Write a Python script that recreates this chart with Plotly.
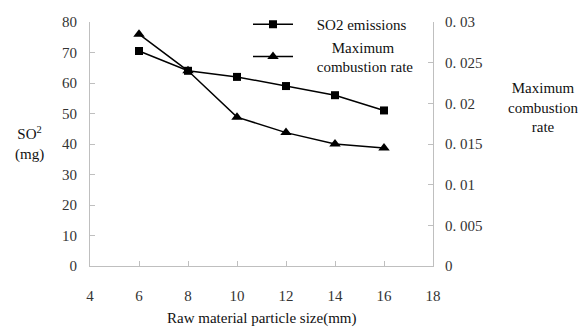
import plotly.graph_objects as go

particle_size = [6, 8, 10, 12, 14, 16]
so2_emissions = [70.5, 64, 62, 59, 56, 51]
max_combustion_rate = [0.0285, 0.024, 0.0183, 0.0164, 0.015, 0.0145]

x_ticks = [4, 6, 8, 10, 12, 14, 16, 18]
y_ticks = [0, 10, 20, 30, 40, 50, 60, 70, 80]
y2_ticks = [0, 0.005, 0.01, 0.015, 0.02, 0.025, 0.03]
y2_ticktext = ["0", "0. 005", "0. 01", "0. 015", "0. 02", "0. 025", "0. 03"]

FONT = "Liberation Serif"
AX = "#bfbfbf"
W, H = 585, 327
L, R, T, B = 90, 152, 22, 61

NB = "&nbsp;"
fig = go.Figure()
fig.add_trace(go.Scatter(
    x=particle_size, y=so2_emissions, name=NB * 5 + "SO2 emissions",
    mode="lines+markers", line=dict(color="black", width=1.5),
    marker=dict(symbol="square", size=8, color="black"),
))
fig.add_trace(go.Scatter(
    x=particle_size, y=max_combustion_rate,
    name=NB * 9 + "Maximum<br>" + NB * 5 + "combustion rate",
    mode="lines+markers", line=dict(color="black", width=1.5),
    marker=dict(symbol="triangle-up", size=10, color="black"), yaxis="y2",
))

pw = W - L - R
ph = H - T - B

def px(xp):
    return (xp - L) / pw

def py(yp):
    return (H - B - yp) / ph

tf = dict(family=FONT, size=15, color="#333")
axis_common = dict(showgrid=False, zeroline=False, showline=True, linecolor=AX,
                   linewidth=1, ticks="inside", ticklen=5, tickcolor=AX,
                   tickfont=tf, automargin=False)
af = dict(family=FONT, size=15, color="#111")

fig.update_layout(
    width=W, height=H,
    margin=dict(l=L, r=R, t=T, b=B, autoexpand=False),
    paper_bgcolor="white", plot_bgcolor="white",
    font=dict(family=FONT, size=14, color="#222"),
    xaxis=dict(range=[4, 18], tickvals=x_ticks, ticklabelstandoff=16, **axis_common),
    yaxis=dict(range=[0, 80], tickvals=y_ticks, ticklabelstandoff=9, **axis_common),
    yaxis2=dict(range=[0, 0.03], tickvals=y2_ticks, ticktext=y2_ticktext,
                overlaying="y", side="right", ticklabelstandoff=8, **axis_common),
    legend=dict(x=px(248), y=py(8), xanchor="left", yanchor="top",
                bgcolor="rgba(0,0,0,0)", font=af,
                itemwidth=40, tracegroupgap=0),
    showlegend=True,
    annotations=[
        dict(text="SO<sup>2</sup><br>(mg)", x=px(29), y=py(143), xref="paper", yref="paper",
             xanchor="center", yanchor="middle",
             showarrow=False, font=af, align="center"),
        dict(text="Maximum<br>combustion<br>rate", x=px(543), y=py(108), xref="paper", yref="paper",
             xanchor="center", yanchor="middle",
             showarrow=False, font=af, align="center"),
        dict(text="Raw material particle size(mm)", x=px(262), y=py(318), xref="paper", yref="paper",
             xanchor="center", yanchor="middle",
             showarrow=False, font=af, align="center"),
    ],
)

fig.write_html("out.html", config={"displayModeBar": False},
               post_script="document.body.style.margin='0';document.body.style.padding='0';")
